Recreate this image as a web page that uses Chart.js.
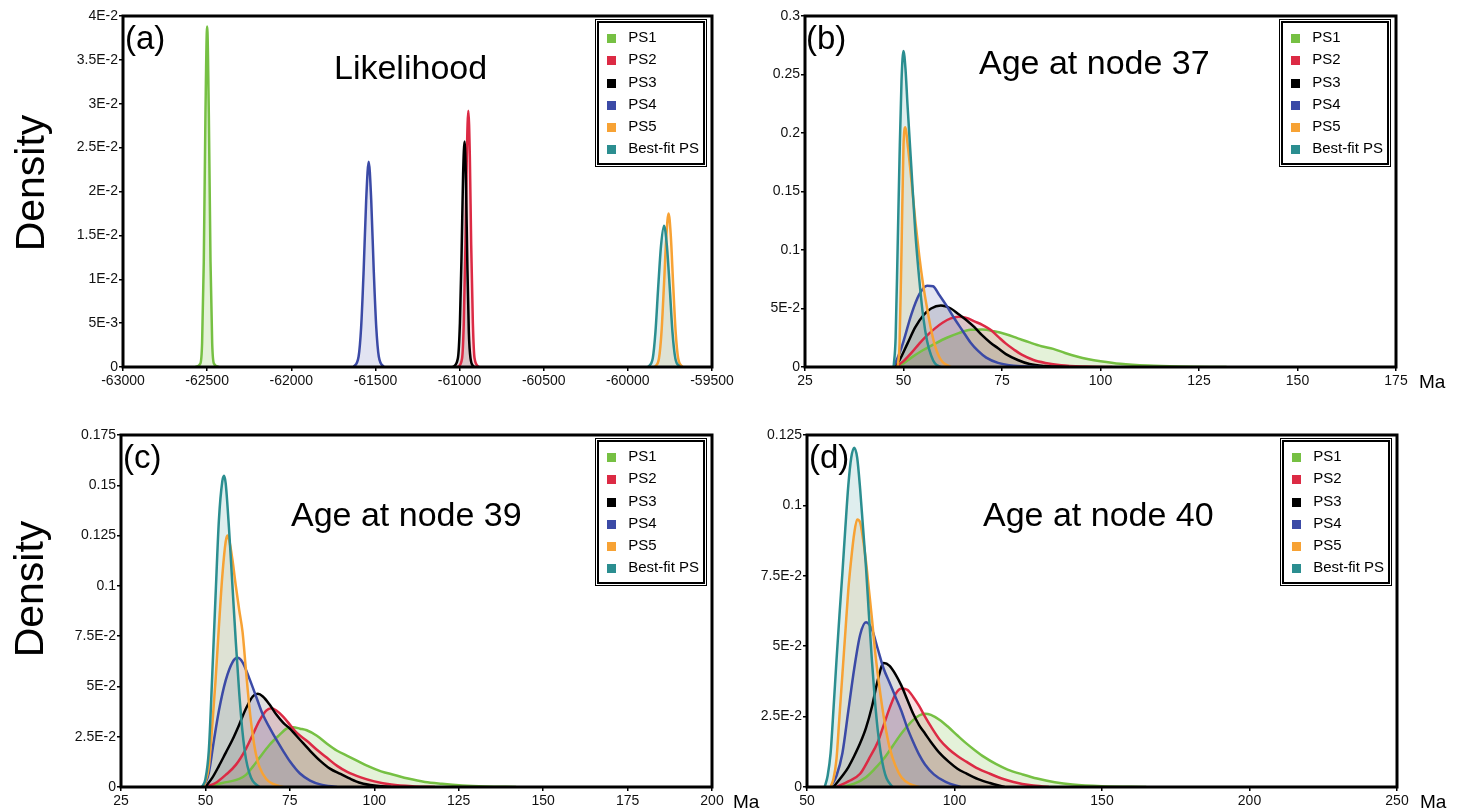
<!DOCTYPE html>
<html>
<head>
<meta charset="utf-8">
<script src="https://cdn.jsdelivr.net/npm/chart.js@4.4.0/dist/chart.umd.min.js"></script>
<style>
  body { margin: 0; width: 1458px; height: 809px; background: #fff; position: relative; overflow: hidden;
         font-family: "Liberation Sans", Arial, sans-serif; color: #000; }
  .panel { position: absolute; }
  .txt { position: absolute; white-space: nowrap; line-height: 1; }
  .letter { font-size: 33px; }
  .title { font-size: 34px; }
  .ma { font-size: 19px; }
  .density { position: absolute; width: 200px; height: 50px; line-height: 50px; text-align: center;
             font-size: 41px; transform: rotate(-90deg); }
  .legend { position: absolute; background: #fff; border: 2px solid #000;
            box-shadow: 0 0 0 1px #fff, 0 0 0 2px #000; padding: 3px 4px 3px 8px; }
  .legend div { height: 22.3px; line-height: 22.3px; font-size: 15px; white-space: nowrap; }
  .legend span { display: inline-block; width: 9px; height: 9px; margin-right: 12px; vertical-align: -1px; }
</style>
</head>
<body>

<div class="panel" id="pa" style="left:0;top:0;width:740px;height:400px"><canvas id="ca"></canvas></div>
<div class="panel" id="pb" style="left:740px;top:0;width:718px;height:400px"><canvas id="cb"></canvas></div>
<div class="panel" id="pc" style="left:0;top:400px;width:740px;height:409px"><canvas id="cc"></canvas></div>
<div class="panel" id="pd" style="left:740px;top:400px;width:718px;height:409px"><canvas id="cd"></canvas></div>

<div class="density" style="left:-70px;top:158px">Density</div>
<div class="density" style="left:-71px;top:564px">Density</div>

<div class="txt letter" style="left:125px;top:21px">(a)</div>
<div class="txt letter" style="left:806px;top:21px">(b)</div>
<div class="txt letter" style="left:123px;top:440px">(c)</div>
<div class="txt letter" style="left:809px;top:440px">(d)</div>

<div class="txt title" style="left:334px;top:50px">Likelihood</div>
<div class="txt title" style="left:979px;top:45px">Age at node 37</div>
<div class="txt title" style="left:291px;top:497px">Age at node 39</div>
<div class="txt title" style="left:983px;top:497px">Age at node 40</div>

<div class="txt ma" style="left:1419px;top:372px">Ma</div>
<div class="txt ma" style="left:733px;top:792px">Ma</div>
<div class="txt ma" style="left:1420px;top:792px">Ma</div>

<script>
const seriesNames = ['PS1', 'PS2', 'PS3', 'PS4', 'PS5', 'Best-fit PS'];

// (a) Likelihood
const aXTicks = [-63000, -62500, -62000, -61500, -61000, -60500, -60000, -59500];
const aYTicks = [0, 0.005, 0.01, 0.015, 0.02, 0.025, 0.03, 0.035, 0.04];
const aYLabels = ['0', '5E-3', '1E-2', '1.5E-2', '2E-2', '2.5E-2', '3E-2', '3.5E-2', '4E-2'];
const aPS1 = [[-62570,0],[-62540,0.0004],[-62530,0.0027],[-62520,0.012],[-62510,0.0288],[-62500,0.0388],[-62490,0.0288],[-62480,0.012],[-62470,0.0027],[-62460,0.0004],[-62430,0]];
const aPS2 = [[-61010,0],[-60985,0.001],[-60975,0.005],[-60965,0.014],[-60957,0.024],[-60948,0.0292],[-60939,0.024],[-60931,0.014],[-60921,0.005],[-60911,0.001],[-60885,0]];
const aPS3 = [[-61040,0],[-61010,0.001],[-60998,0.005],[-60988,0.013],[-60979,0.022],[-60970,0.0257],[-60962,0.021],[-60954,0.012],[-60945,0.004],[-60935,0.001],[-60915,0]];
const aPS4 = [[-61630,0],[-61600,0.0012],[-61585,0.0045],[-61570,0.011],[-61555,0.019],[-61540,0.0234],[-61525,0.019],[-61510,0.011],[-61495,0.0045],[-61480,0.0012],[-61450,0]];
const aPS5 = [[-59840,0],[-59815,0.001],[-59800,0.004],[-59785,0.0095],[-59771,0.015],[-59758,0.0175],[-59745,0.015],[-59731,0.0095],[-59716,0.004],[-59701,0.001],[-59675,0]];
const aBest = [[-59880,0],[-59852,0.001],[-59836,0.004],[-59820,0.009],[-59803,0.0138],[-59785,0.0161],[-59768,0.0138],[-59751,0.009],[-59735,0.004],[-59718,0.001],[-59690,0]];

// (b) Age at node 37
const bXTicks = [25, 50, 75, 100, 125, 150, 175];
const bYTicks = [0, 0.05, 0.1, 0.15, 0.2, 0.25, 0.3];
const bYLabels = ['0', '5E-2', '0.1', '0.15', '0.2', '0.25', '0.3'];
const bPS1 = [[48,0],[50,0.003],[52,0.008],[55,0.0145],[58,0.02],[61,0.025],[64,0.029],[67,0.0318],[70,0.032],[73,0.0305],[76,0.028],[79,0.0245],[82,0.021],[85,0.0178],[88,0.0155],[91,0.012],[94,0.009],[97,0.0067],[100,0.005],[105,0.0028],[112,0.0012],[120,0.0004],[132,0]];
const bPS2 = [[48,0],[50,0.005],[52,0.012],[54,0.02],[56,0.027],[58,0.033],[60,0.038],[62,0.0415],[64,0.043],[66,0.042],[68,0.039],[70,0.036],[72,0.032],[74,0.026],[76,0.02],[78,0.015],[80,0.0105],[83,0.006],[86,0.0035],[90,0.0015],[96,0.0004],[103,0]];
const bPS3 = [[47.5,0],[49,0.006],[51,0.02],[53,0.034],[55,0.044],[57,0.05],[59.5,0.0525],[62,0.05],[64,0.045],[66,0.04],[68,0.034],[70,0.027],[72,0.021],[74,0.016],[76,0.011],[79,0.006],[82,0.0025],[86,0.0008],[92,0]];
const bPS4 = [[47.5,0],[49,0.012],[50,0.022],[52,0.045],[54,0.062],[56,0.0695],[57.5,0.069],[59,0.062],[61,0.052],[63,0.041],[65,0.031],[67,0.021],[69,0.0135],[71,0.008],[74,0.0035],[78,0.001],[85,0]];
const bPS5 = [[48.5,0],[49,0.02],[49.5,0.1],[50,0.19],[50.5,0.205],[51,0.192],[52,0.16],[53,0.125],[54,0.095],[55,0.07],[56,0.05],[57,0.032],[58,0.018],[59,0.009],[60,0.004],[62,0]];
const bBest = [[47.5,0],[48,0.025],[48.5,0.1],[49,0.18],[49.5,0.245],[50,0.27],[50.5,0.255],[51,0.225],[52,0.17],[53,0.115],[54,0.075],[55,0.043],[56,0.022],[57,0.01],[58,0.003],[59.5,0]];

// (c) Age at node 39
const cXTicks = [25, 50, 75, 100, 125, 150, 175, 200];
const cYTicks = [0, 0.025, 0.05, 0.075, 0.1, 0.125, 0.15, 0.175];
const cYLabels = ['0', '2.5E-2', '5E-2', '7.5E-2', '0.1', '0.125', '0.15', '0.175'];
const cPS1 = [[50,0],[55,0.002],[60,0.004],[62,0.006],[64,0.01],[66,0.0145],[69,0.021],[72,0.026],[74,0.029],[76,0.0297],[78,0.029],[80,0.0282],[83,0.0255],[86,0.0215],[89,0.018],[92,0.0155],[95,0.013],[98,0.0105],[102,0.0078],[106,0.006],[110,0.0042],[115,0.0025],[120,0.0016],[126,0.0008],[133,0.0003],[142,0]];
const cPS2 = [[50,0],[53,0.002],[56,0.006],[59,0.011],[62,0.019],[64,0.026],[66,0.033],[68,0.038],[69.5,0.0392],[71,0.038],[73,0.035],[75,0.031],[77,0.027],[80,0.023],[83,0.0185],[86,0.0145],[89,0.0105],[92,0.0075],[96,0.0048],[100,0.0028],[105,0.0012],[112,0.0003],[118,0]];
const cPS3 = [[50,0],[52,0.0045],[54,0.0105],[56,0.017],[58,0.0235],[60,0.031],[62,0.039],[64,0.045],[65.5,0.0463],[67,0.045],[69,0.041],[71,0.036],[73,0.032],[75,0.029],[78,0.0235],[81,0.018],[84,0.013],[87,0.009],[90,0.0065],[93,0.004],[96,0.002],[100,0.0007],[105,0]];
const cPS4 = [[49.5,0],[51,0.007],[52.5,0.023],[54,0.038],[56,0.053],[58,0.062],[59.5,0.0642],[61,0.062],[63,0.054],[65,0.045],[67,0.036],[69,0.0295],[71,0.0235],[73,0.018],[75,0.0128],[78,0.0067],[81,0.0032],[84,0.0013],[89,0]];
const cPS5 = [[49.5,0],[51,0.01],[52,0.03],[53,0.053],[54,0.08],[55,0.105],[56,0.122],[56.5,0.125],[57,0.123],[58,0.113],[59,0.1],[60,0.088],[61,0.077],[62,0.058],[63,0.04],[64,0.026],[65,0.016],[66,0.01],[68,0.004],[70,0.0015],[73,0]];
const cBest = [[49,0],[50,0.004],[51,0.018],[52,0.055],[53,0.095],[54,0.133],[55,0.152],[55.5,0.1547],[56,0.151],[57,0.128],[58,0.1],[59,0.072],[60,0.047],[61,0.027],[62,0.014],[63,0.007],[64,0.003],[66,0]];

// (d) Age at node 40
const dXTicks = [50, 100, 150, 200, 250];
const dYTicks = [0, 0.025, 0.05, 0.075, 0.1, 0.125];
const dYLabels = ['0', '2.5E-2', '5E-2', '7.5E-2', '0.1', '0.125'];
const dPS1 = [[62,0],[66,0.0012],[70,0.0035],[73,0.0065],[76,0.01],[79,0.0145],[82,0.019],[85,0.0228],[88,0.0254],[90,0.026],[92,0.0256],[95,0.0238],[98,0.0212],[101,0.0183],[104,0.0155],[107,0.013],[110,0.0107],[114,0.0082],[118,0.0062],[123,0.0045],[128,0.003],[134,0.0017],[140,0.0009],[150,0.0003],[165,0]];
const dPS2 = [[60,0],[64,0.002],[68,0.0047],[71,0.01],[74,0.016],[76,0.022],[78,0.028],[80,0.033],[82,0.035],[84,0.0345],[86,0.032],[88,0.0288],[90,0.025],[92,0.0215],[95,0.0168],[98,0.0135],[101,0.011],[104,0.009],[108,0.0065],[112,0.0047],[116,0.003],[120,0.0018],[126,0.0006],[132,0]];
const dPS3 = [[59,0],[62,0.004],[64,0.007],[66,0.011],[68,0.0155],[70,0.021],[72,0.0285],[74,0.038],[76,0.044],[78,0.043],[80,0.04],[82,0.036],[84,0.031],[86,0.026],[88,0.022],[90,0.019],[92,0.016],[95,0.012],[98,0.009],[101,0.0065],[104,0.0048],[108,0.0028],[112,0.0014],[117,0]];
const dPS4 = [[58,0],[60,0.004],[62,0.012],[64,0.027],[66,0.042],[68,0.054],[70,0.0585],[72,0.056],[74,0.049],[76,0.042],[78,0.037],[80,0.032],[82,0.027],[84,0.021],[86,0.016],[88,0.0115],[90,0.008],[93,0.0045],[97,0.0018],[102,0]];
const dPS5 = [[58,0],[59,0.003],[60,0.01],[61,0.025],[62,0.04],[63,0.055],[64,0.07],[65,0.081],[66,0.09],[67,0.095],[68,0.094],[69,0.088],[70,0.08],[71,0.07],[72,0.06],[73,0.049],[74,0.04],[75,0.032],[76,0.025],[77,0.019],[78,0.014],[80,0.0075],[82,0.0035],[85,0.001],[88,0]];
const dBest = [[56,0],[57,0.004],[58,0.012],[59,0.028],[60,0.045],[61,0.061],[62,0.076],[63,0.092],[64,0.107],[65,0.117],[66,0.1205],[67,0.117],[68,0.106],[69,0.092],[70,0.078],[71,0.061],[72,0.045],[73,0.031],[74,0.02],[75,0.012],[76,0.0065],[77,0.003],[79,0]];

const lineColors = ['#76c043', '#dc2a44', '#000000', '#3b4aa6', '#f7a234', '#2b8e90'];
const fillColors = ['rgba(118,192,67,0.2)', 'rgba(220,42,68,0.15)', 'rgba(40,40,40,0.15)',
                    'rgba(59,74,166,0.15)', 'rgba(247,162,52,0.15)', 'rgba(43,142,144,0.15)'];

// thick box round the plot area
const framePlugin = {
    id: 'frame',
    afterDatasetsDraw(chart) {
        const a = chart.chartArea, c = chart.ctx;
        c.save();
        c.strokeStyle = '#000';
        c.lineWidth = 3;
        c.strokeRect(a.left, a.top, a.right - a.left, a.bottom - a.top);
        c.restore();
    }
};

function makePanel(canvasId, panelId, series, xTicks, yTicks, yLabels, box) {
    const datasets = series.map((pts, i) => ({
        label: seriesNames[i],
        data: pts.map(p => ({ x: p[0], y: p[1] })),
        borderColor: lineColors[i],
        backgroundColor: fillColors[i],
        borderWidth: 2.5,
        pointRadius: 0,
        fill: 'origin',
        cubicInterpolationMode: 'monotone',
        order: series.length - i
    }));
    const tickFont = { family: '"Liberation Sans", Arial, sans-serif', size: 14 };
    const chart = new Chart(document.getElementById(canvasId), {
        type: 'line',
        data: { datasets },
        options: {
            responsive: true,
            maintainAspectRatio: false,
            animation: false,
            layout: { padding: { top: box.top, right: box.right, left: 0, bottom: 0 } },
            plugins: {
                legend: { display: false },
                tooltip: { enabled: false },
                filler: { drawTime: 'beforeDatasetsDraw' }
            },
            scales: {
                x: {
                    type: 'linear',
                    min: xTicks[0], max: xTicks[xTicks.length - 1],
                    afterBuildTicks: s => { s.ticks = xTicks.map(v => ({ value: v })); },
                    afterFit: s => { s.height = box.xh; },
                    ticks: { font: tickFont, color: '#111', padding: 2, maxRotation: 0, autoSkip: false,
                             callback: v => String(v) },
                    grid: { drawOnChartArea: false, tickLength: 4, color: '#000', lineWidth: 1.5 },
                    border: { display: false }
                },
                y: {
                    min: yTicks[0], max: yTicks[yTicks.length - 1],
                    afterBuildTicks: s => { s.ticks = yTicks.map(v => ({ value: v })); },
                    afterFit: s => { s.width = box.yw; },
                    ticks: { font: tickFont, color: '#111', padding: 1, autoSkip: false,
                             callback: (v, i) => yLabels[i] },
                    grid: { drawOnChartArea: false, tickLength: 4, color: '#000', lineWidth: 1.5 },
                    border: { display: false }
                }
            }
        },
        plugins: [framePlugin]
    });

    // legend box built from the chart's own datasets
    const a = chart.chartArea;
    const panel = document.getElementById(panelId);
    const lg = document.createElement('div');
    lg.className = 'legend';
    chart.data.datasets.forEach(ds => {
        const row = document.createElement('div');
        row.innerHTML = `<span style="background:${ds.borderColor}"></span>${ds.label}`;
        lg.appendChild(row);
    });
    lg.style.top = (a.top + 5) + 'px';
    lg.style.right = (panel.clientWidth - a.right + 7) + 'px';
    panel.appendChild(lg);
    return chart;
}

makePanel('ca', 'pa', [aPS1, aPS2, aPS3, aPS4, aPS5, aBest], aXTicks, aYTicks, aYLabels,
          { top: 16, right: 28, yw: 123, xh: 33 });
makePanel('cb', 'pb', [bPS1, bPS2, bPS3, bPS4, bPS5, bBest], bXTicks, bYTicks, bYLabels,
          { top: 16, right: 62, yw: 65, xh: 33 });
makePanel('cc', 'pc', [cPS1, cPS2, cPS3, cPS4, cPS5, cBest], cXTicks, cYTicks, cYLabels,
          { top: 35, right: 28, yw: 121, xh: 22 });
makePanel('cd', 'pd', [dPS1, dPS2, dPS3, dPS4, dPS5, dBest], dXTicks, dYTicks, dYLabels,
          { top: 35, right: 61, yw: 67, xh: 22 });
</script>
</body>
</html>
